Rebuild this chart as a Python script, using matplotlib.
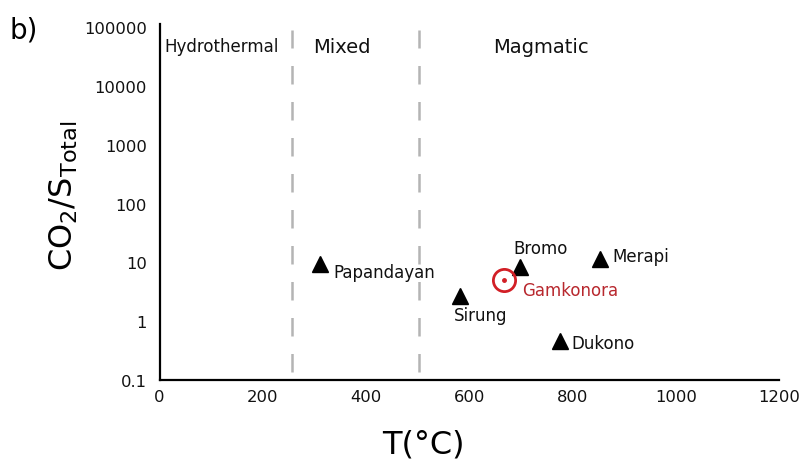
import numpy as np
import matplotlib
matplotlib.use("Agg")
import matplotlib.pyplot as plt

plt.rcParams['font.family'] = ['DejaVu Sans']
plt.rcParams['mathtext.default'] = 'regular'

# volcano data (T in degC, CO2/S total)
volcanoes = ['Papandayan', 'Sirung', 'Bromo', 'Merapi', 'Dukono']
temps = [311, 583, 698, 853, 776]
ratios = [9.4, 2.65, 8.3, 11.4, 0.46]
# label offsets in points (dx, dy) and alignment
label_offsets = [(9.5, -5.5), (-5, -13.5), (15, 14), (9, 2), (8, -1.5)]
label_ha = ['left', 'left', 'center', 'left', 'left']

gam_name = 'Gamkonora'
gam_temp = 667
gam_ratio = 5.0

# regime boundaries and names
boundaries = [256, 503]
regimes = ['Hydrothermal', 'Mixed', 'Magmatic']
regime_x = [121, 353, 739]
regime_size = [12, 14, 14]

xticks = [0, 200, 400, 600, 800, 1000, 1200]
yticks = [0.1, 1, 10, 100, 1000, 10000, 100000]
ytick_labels = ['0.1', '1', '10', '100', '1000', '10000', '100000']

fig = plt.figure(figsize=(8.05, 4.64), dpi=100)
ax = fig.add_axes([159.5 / 805, 1 - 380.7 / 464, 619.5 / 805, 355.7 / 464])

ax.set_yscale('log')
ax.set_xlim(0, 1200)
ax.set_ylim(0.1, 10 ** (355.7 / 58.7 - 1))

# dashed regime boundaries (drawn bottom-up so the pattern starts at the bottom)
for b in boundaries:
    ax.axvline(b, ymin=0.0216, ymax=0.983, color='#b4b4b4', lw=1.8,
               dashes=(7.4, 7.0))

for name, xr, fs in zip(regimes, regime_x, regime_size):
    ax.text(xr, 4.8e4, name, ha='center', va='center', fontsize=fs,
            color='#111111')

ax.plot(temps, ratios, '^', color='black', ms=12, ls='none', zorder=5)
for name, t, r, off, ha in zip(volcanoes, temps, ratios, label_offsets, label_ha):
    ax.annotate(name, (t, r), xytext=off, textcoords='offset points',
                ha=ha, va='center', fontsize=12, color='#111111')

ax.plot([gam_temp], [gam_ratio], 'o', mfc='none', mec='#d21f26', mew=2,
        ms=16, zorder=6)
ax.plot([gam_temp], [gam_ratio], 'o', color='#d21f26', ms=2.5, zorder=6)
ax.annotate(gam_name, (gam_temp, gam_ratio), xytext=(13.5, -7),
            textcoords='offset points', ha='left', va='center',
            fontsize=12, color='#b8282e')

ax.set_xticks(xticks)
ax.set_xticklabels([str(v) for v in xticks])
ax.set_yticks(yticks)
ax.set_yticklabels(ytick_labels)
ax.minorticks_off()
ax.tick_params(axis='both', length=0, labelsize=11.8, colors='#111111')
ax.tick_params(axis='x', pad=7)
ax.tick_params(axis='y', pad=9)

for s in ['top', 'right']:
    ax.spines[s].set_visible(False)
for s in ['left', 'bottom']:
    ax.spines[s].set_linewidth(1.6)
    ax.spines[s].set_color('black')

ax.set_xlabel('T(°C)', fontsize=23)
ax.xaxis.set_label_coords((423 - 159.5) / 619.5, -(445 - 380.7) / 355.7)
ax.xaxis.label.set_va('center')
ax.set_ylabel('CO$_2$/S$_{Total}$', fontsize=23)
ax.yaxis.set_label_coords((64 - 159.5) / 619.5, (380.7 - 196) / 355.7)
ax.yaxis.label.set_va('center')

fig.text(10 / 805, 1 - 31 / 464, 'b)', fontsize=20, ha='left', va='center')

fig.savefig('out.png', dpi=100)
